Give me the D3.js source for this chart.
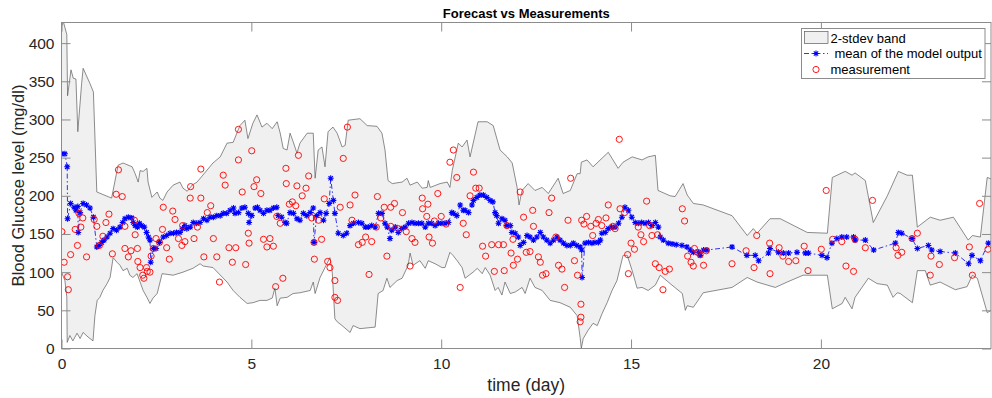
<!DOCTYPE html>
<html>
<head>
<meta charset="utf-8">
<script src="https://cdn.jsdelivr.net/npm/d3@7"></script>
<style>
  body { margin: 0; background: #fff; }
  svg { display: block; font-family: "Liberation Sans", Arial, Helvetica, sans-serif; }
</style>
</head>
<body>
<div id="chart"></div>
<script>
// all series are [day, mg/dl]
const bandUpper = [
  [0, 422], [0.05, 428], [0.14, 411], [0.16, 331], [0.25, 365], [0.31, 354], [0.38, 353], [0.43, 284],
  [0.53, 347], [0.57, 367], [0.75, 347], [0.84, 336], [0.93, 205], [1.32, 197], [1.49, 240], [1.62, 243],
  [1.86, 238], [1.94, 229], [2.02, 218], [2.07, 233], [2.15, 232], [2.25, 236], [2.28, 218], [2.38, 198],
  [2.52, 205], [2.59, 197], [2.67, 194], [2.78, 205], [2.94, 214], [3.12, 218], [3.20, 210], [3.31, 206],
  [3.44, 214], [3.57, 218], [3.99, 243], [4.18, 251], [4.36, 269], [4.52, 270], [4.70, 292], [4.83, 299],
  [4.91, 275], [5.04, 295], [5.15, 306], [5.28, 290], [5.41, 295], [5.55, 288], [5.68, 297], [5.76, 282],
  [5.84, 262], [5.94, 260], [6.02, 282], [6.10, 271], [6.20, 256], [6.28, 269], [6.47, 282], [6.63, 282],
  [6.68, 223], [6.76, 260], [6.86, 264], [6.94, 238], [7.02, 284], [7.15, 290], [7.26, 282], [7.39, 264],
  [7.47, 266], [7.55, 299], [7.86, 301], [8.05, 292], [8.31, 291], [8.44, 282], [8.52, 260], [8.60, 220],
  [8.71, 216], [8.97, 218], [9.10, 223], [9.18, 214], [9.37, 218], [9.50, 210], [9.63, 211], [9.66, 220],
  [9.71, 211], [9.97, 216], [10.16, 218], [10.23, 211], [10.29, 233], [10.45, 269], [10.55, 264], [10.68, 273],
  [10.76, 251], [10.97, 297], [11.21, 297], [11.37, 292], [11.55, 260], [11.74, 251], [11.87, 243], [12.00, 211],
  [12.05, 188], [12.13, 207], [12.29, 216], [12.47, 207], [12.66, 211], [12.82, 203], [13.08, 223], [13.21, 203],
  [13.40, 207], [13.58, 229], [13.66, 229], [13.69, 244], [13.84, 247], [14.00, 238], [14.40, 257], [14.50, 249],
  [14.66, 236], [14.79, 244], [15.03, 251], [15.29, 247], [15.45, 251], [15.64, 253], [15.71, 207], [16.03, 200],
  [16.16, 199], [16.37, 216], [16.48, 201], [16.64, 190], [16.90, 188], [17.66, 174], [18.06, 148], [18.22, 157],
  [18.32, 151], [18.66, 170], [18.93, 170], [19.64, 152], [20.17, 151], [20.30, 224], [20.64, 232], [20.82, 227],
  [20.90, 230], [21.17, 220], [21.38, 165], [21.75, 200], [22.04, 232], [22.27, 227], [22.41, 227], [22.54, 159],
  [22.88, 172], [23.14, 168], [23.49, 172], [23.88, 142], [23.99, 148], [24.20, 146], [24.38, 224], [24.49, 222]
];

const bandLower = [
  [0, 100], [0.09, 89], [0.14, 67], [0.15, 8], [0.22, 17], [0.30, 10], [0.41, 20], [0.49, 13],
  [0.57, 21], [0.70, 15], [0.83, 10], [0.88, 43], [0.94, 63], [1.01, 67], [1.09, 76], [1.20, 85],
  [1.28, 93], [1.36, 119], [1.46, 113], [1.54, 109], [1.62, 102], [1.73, 105], [1.80, 96], [1.88, 93],
  [1.99, 98], [2.07, 87], [2.15, 76], [2.25, 67], [2.33, 59], [2.41, 66], [2.52, 72], [2.65, 98],
  [2.94, 96], [3.20, 100], [3.46, 105], [3.65, 111], [3.73, 108], [3.99, 106], [4.36, 87], [4.52, 76],
  [4.70, 67], [4.89, 59], [5.04, 60], [5.23, 63], [5.41, 63], [5.55, 66], [5.62, 79], [5.68, 56],
  [5.76, 66], [5.94, 67], [6.10, 72], [6.28, 73], [6.55, 76], [6.63, 87], [6.68, 72], [6.81, 93],
  [6.94, 106], [7.07, 119], [7.13, 100], [7.20, 39], [7.26, 35], [7.39, 30], [7.60, 21], [7.68, 30],
  [7.86, 26], [8.26, 28], [8.34, 72], [8.47, 76], [8.57, 92], [8.65, 80], [8.84, 89], [8.97, 92],
  [9.13, 109], [9.18, 125], [9.26, 109], [9.44, 115], [9.58, 105], [9.66, 115], [9.84, 111], [10.02, 106],
  [10.10, 106], [10.23, 126], [10.31, 122], [10.42, 115], [10.55, 106], [10.63, 92], [10.84, 100], [10.95, 105],
  [11.08, 98], [11.16, 106], [11.29, 96], [11.42, 76], [11.50, 80], [11.60, 70], [11.68, 87], [11.82, 72],
  [11.95, 74], [12.13, 80], [12.21, 72], [12.34, 92], [12.47, 80], [12.66, 76], [12.87, 63], [13.13, 60],
  [13.40, 54], [13.58, 43], [13.66, 14], [13.69, 0], [13.74, 13], [13.87, 24], [14.00, 33], [14.11, 30],
  [14.24, 46], [14.37, 60], [14.50, 76], [14.63, 89], [14.79, 122], [14.90, 122], [15.03, 102], [15.16, 79],
  [15.29, 80], [15.45, 76], [15.64, 83], [15.77, 96], [16.03, 85], [16.35, 72], [16.43, 50], [16.48, 56],
  [16.64, 54], [16.82, 67], [16.90, 73], [17.66, 80], [18.06, 93], [18.32, 87], [18.80, 80], [19.11, 87],
  [19.53, 96], [20.17, 96], [20.30, 52], [20.56, 59], [20.64, 67], [20.82, 52], [20.90, 67], [21.25, 92],
  [21.48, 85], [21.75, 83], [21.90, 67], [22.01, 73], [22.09, 72], [22.41, 60], [22.54, 102], [22.75, 102],
  [22.88, 83], [23.14, 87], [23.54, 77], [23.85, 81], [23.99, 96], [24.12, 92], [24.38, 47], [24.49, 50]
];

const modelMean = [
  [0.01, 255], [0.09, 255], [0.15, 238], [0.16, 170], [0.24, 190], [0.33, 185], [0.38, 181], [0.43, 186],
  [0.44, 152], [0.49, 178], [0.57, 190], [0.66, 188], [0.75, 184], [0.84, 172], [0.93, 133], [0.99, 135],
  [1.06, 139], [1.12, 142], [1.20, 146], [1.28, 151], [1.36, 157], [1.45, 155], [1.54, 159], [1.61, 165],
  [1.67, 170], [1.76, 172], [1.85, 171], [1.89, 165], [1.94, 161], [2.00, 159], [2.05, 164], [2.11, 161],
  [2.18, 159], [2.24, 152], [2.29, 146], [2.33, 142], [2.35, 113], [2.42, 131], [2.49, 131], [2.58, 139],
  [2.68, 146], [2.77, 148], [2.86, 151], [2.95, 151], [3.03, 152], [3.12, 152], [3.19, 157], [3.25, 161],
  [3.30, 157], [3.39, 159], [3.47, 165], [3.56, 164], [3.65, 165], [3.74, 170], [3.83, 168], [3.91, 172],
  [4.00, 172], [4.09, 174], [4.18, 174], [4.26, 177], [4.35, 177], [4.44, 181], [4.53, 184], [4.57, 177],
  [4.66, 178], [4.75, 184], [4.83, 185], [4.92, 177], [4.94, 165], [5.01, 174], [5.10, 184], [5.16, 185],
  [5.23, 181], [5.32, 177], [5.41, 181], [5.49, 181], [5.58, 184], [5.67, 185], [5.71, 174], [5.80, 172],
  [5.89, 165], [5.93, 164], [6.02, 178], [6.11, 177], [6.20, 170], [6.28, 168], [6.37, 177], [6.46, 174],
  [6.55, 178], [6.63, 184], [6.65, 139], [6.72, 174], [6.81, 178], [6.90, 168], [6.97, 177], [7.05, 190],
  [7.09, 223], [7.16, 194], [7.20, 177], [7.29, 151], [7.42, 148], [7.51, 151], [7.60, 161], [7.69, 164],
  [7.82, 165], [7.91, 164], [8.00, 159], [8.08, 159], [8.17, 161], [8.26, 159], [8.35, 177], [8.44, 177],
  [8.52, 164], [8.58, 159], [8.65, 144], [8.70, 155], [8.79, 159], [8.87, 152], [8.96, 157], [9.05, 159],
  [9.14, 164], [9.23, 165], [9.31, 164], [9.40, 164], [9.49, 164], [9.58, 159], [9.66, 164], [9.75, 164],
  [9.84, 161], [9.93, 164], [10.02, 164], [10.10, 164], [10.19, 165], [10.28, 178], [10.32, 177], [10.41, 174],
  [10.50, 188], [10.58, 181], [10.63, 181], [10.72, 178], [10.81, 188], [10.85, 194], [10.94, 198], [11.02, 201],
  [11.11, 201], [11.20, 198], [11.29, 194], [11.36, 192], [11.42, 178], [11.46, 174], [11.51, 164], [11.60, 170],
  [11.68, 168], [11.73, 161], [11.82, 161], [11.86, 152], [11.95, 151], [12.03, 146], [12.08, 135], [12.17, 139],
  [12.26, 148], [12.34, 146], [12.43, 142], [12.52, 146], [12.61, 152], [12.69, 146], [12.78, 142], [12.87, 138],
  [12.96, 142], [13.05, 146], [13.13, 142], [13.22, 138], [13.31, 135], [13.40, 135], [13.48, 138], [13.57, 135],
  [13.66, 133], [13.70, 129], [13.71, 93], [13.79, 138], [13.88, 139], [13.97, 138], [14.05, 139], [14.14, 139],
  [14.19, 142], [14.23, 151], [14.32, 152], [14.40, 157], [14.49, 159], [14.58, 159], [14.67, 164], [14.76, 172],
  [14.84, 185], [14.93, 181], [15.02, 172], [15.11, 165], [15.19, 164], [15.28, 165], [15.37, 164], [15.46, 165],
  [15.55, 161], [15.64, 165], [15.72, 159], [15.77, 146], [15.85, 142], [15.98, 138], [16.08, 137], [16.19, 136],
  [16.34, 135], [16.47, 133], [16.56, 129], [16.64, 126], [16.78, 126], [16.82, 122], [16.91, 129], [17.00, 129],
  [17.66, 133], [18.05, 122], [18.27, 122], [18.36, 115], [18.62, 125], [18.66, 131], [18.88, 126], [19.01, 125],
  [19.15, 125], [19.37, 126], [19.59, 125], [19.67, 125], [20.03, 122], [20.16, 119], [20.29, 138], [20.42, 144],
  [20.55, 146], [20.68, 146], [20.86, 146], [20.90, 142], [21.17, 142], [21.39, 129], [21.96, 138], [22.04, 152],
  [22.13, 151], [22.40, 144], [22.54, 131], [22.83, 135], [22.92, 129], [23.14, 127], [23.54, 125], [23.89, 111],
  [23.98, 122], [24.20, 115], [24.41, 138]
];

const measurements = [
  [0.01, 153], [0.07, 113], [0.16, 94], [0.18, 77], [0.24, 123], [0.36, 156], [0.42, 135], [0.46, 177],
  [0.51, 159], [0.56, 171], [0.66, 120], [0.86, 169], [0.93, 160], [1.00, 135], [1.09, 147], [1.17, 165],
  [1.25, 176], [1.34, 124], [1.44, 202], [1.50, 234], [1.60, 199], [1.67, 160], [1.67, 131], [1.76, 120],
  [1.83, 128], [1.92, 168], [1.94, 149], [2.00, 131], [2.01, 114], [2.07, 106], [2.14, 96], [2.17, 92],
  [2.24, 106], [2.26, 101], [2.33, 100], [2.36, 121], [2.42, 131], [2.49, 144], [2.58, 139], [2.66, 156],
  [2.68, 185], [2.77, 132], [2.84, 117], [2.93, 180], [2.99, 169], [3.08, 144], [3.17, 135], [3.19, 161],
  [3.25, 140], [3.39, 197], [3.40, 212], [3.49, 144], [3.58, 159], [3.67, 197], [3.67, 235], [3.75, 120],
  [3.84, 178], [3.93, 187], [4.00, 144], [4.09, 120], [4.16, 87], [4.26, 227], [4.31, 214], [4.41, 132],
  [4.50, 113], [4.59, 132], [4.66, 287], [4.66, 247], [4.76, 205], [4.85, 110], [4.92, 151], [4.94, 138],
  [5.01, 259], [5.07, 212], [5.14, 221], [5.25, 203], [5.32, 143], [5.41, 133], [5.49, 144], [5.58, 134],
  [5.64, 81], [5.67, 173], [5.76, 164], [5.83, 92], [5.91, 236], [5.92, 216], [6.00, 189], [6.08, 192],
  [6.17, 187], [6.20, 213], [6.24, 253], [6.34, 200], [6.44, 210], [6.51, 226], [6.59, 171], [6.65, 139],
  [6.66, 117], [6.77, 168], [6.85, 143], [6.92, 196], [7.01, 114], [7.07, 106], [7.20, 89], [7.20, 67],
  [7.27, 63], [7.34, 185], [7.42, 249], [7.53, 290], [7.60, 188], [7.65, 168], [7.73, 201], [7.82, 136],
  [7.92, 139], [8.01, 146], [8.10, 97], [8.17, 140], [8.29, 159], [8.32, 199], [8.41, 171], [8.50, 185],
  [8.57, 121], [8.67, 185], [8.67, 160], [8.77, 190], [8.87, 157], [8.98, 178], [9.08, 153], [9.18, 108],
  [9.23, 144], [9.31, 139], [9.50, 197], [9.51, 183], [9.62, 173], [9.65, 189], [9.68, 146], [9.77, 138],
  [9.82, 167], [9.91, 203], [10.00, 173], [10.13, 163], [10.23, 244], [10.32, 260], [10.41, 224], [10.50, 80],
  [10.58, 164], [10.66, 149], [10.76, 200], [10.85, 231], [10.91, 210], [11.00, 210], [11.09, 134], [11.17, 121],
  [11.33, 136], [11.40, 101], [11.51, 136], [11.64, 136], [11.66, 102], [11.73, 161], [11.84, 125], [11.89, 143],
  [11.90, 109], [12.01, 117], [12.08, 205], [12.17, 172], [12.24, 126], [12.34, 127], [12.41, 181], [12.43, 160],
  [12.56, 120], [12.61, 113], [12.67, 96], [12.76, 98], [12.84, 178], [12.91, 197], [13.02, 146], [13.09, 109],
  [13.18, 104], [13.25, 80], [13.34, 168], [13.41, 223], [13.51, 115], [13.59, 96], [13.68, 58], [13.68, 41],
  [13.66, 35], [13.70, 168], [13.76, 163], [13.83, 173], [13.94, 160], [13.99, 148], [14.08, 164], [14.14, 169],
  [14.23, 161], [14.34, 171], [14.40, 188], [14.52, 160], [14.58, 157], [14.69, 274], [14.71, 183], [14.83, 178],
  [14.91, 123], [14.93, 98], [15.00, 138], [15.09, 130], [15.19, 159], [15.26, 149], [15.33, 140], [15.41, 193],
  [15.49, 161], [15.55, 148], [15.64, 111], [15.70, 149], [15.74, 106], [15.84, 77], [15.90, 101], [16.01, 104],
  [16.35, 183], [16.41, 167], [16.49, 121], [16.58, 113], [16.64, 108], [16.67, 131], [16.75, 126], [16.82, 123],
  [16.91, 109], [16.98, 128], [17.66, 111], [18.03, 128], [18.24, 106], [18.31, 148], [18.65, 138], [18.66, 98],
  [18.90, 132], [19.00, 121], [19.15, 114], [19.34, 115], [19.56, 134], [19.66, 102], [20.01, 130], [20.14, 207],
  [20.31, 143], [20.55, 140], [20.66, 108], [20.86, 101], [20.90, 143], [21.17, 132], [21.36, 194], [21.98, 132],
  [22.03, 122], [22.13, 126], [22.40, 144], [22.54, 151], [22.88, 96], [22.90, 121], [23.12, 110], [23.52, 119],
  [23.91, 133], [23.99, 96], [24.18, 190], [24.40, 130]
];

const xTicks = [0, 5, 10, 15, 20];
const yTicks = [0, 50, 100, 150, 200, 250, 300, 350, 400];
const legendLabels = ['2-stdev band', 'mean of the model output', 'measurement'];

const W = 992, H = 398;
const margin = { top: 22.5, right: 1, bottom: 49.5, left: 61.5 };
const width = W - margin.left - margin.right;
const height = H - margin.top - margin.bottom;

const bandFill = '#f0f0f0', bandEdge = '#5c5c5c';
const meanColor = '#0000ff', measColor = '#ff0000';
const axisColor = '#8c8c8c', textColor = '#262626';

const svg = d3.select('#chart').append('svg')
  .attr('width', W)
  .attr('height', H);

const x = d3.scaleLinear().domain([0, 24.48]).range([0, width]);
const y = d3.scaleLinear().domain([0, 427]).range([height, 0]);

const g = svg.append('g').attr('transform', `translate(${margin.left},${margin.top})`);

g.append('clipPath').attr('id', 'plot-clip')
  .append('rect').attr('width', width).attr('height', height);

const plot = g.append('g').attr('clip-path', 'url(#plot-clip)');

// shaded 2-stdev band: upper edge forward, lower edge back
const bandPath = d3.line().x(d => x(d[0])).y(d => y(d[1]));
plot.append('path')
  .attr('d', bandPath(bandUpper.concat(bandLower.slice().reverse())) + 'Z')
  .attr('fill', bandFill)
  .attr('stroke', bandEdge)
  .attr('stroke-width', 0.7)
  .attr('stroke-linejoin', 'round');

// model mean, dash-dot with '*' markers
plot.append('path')
  .attr('d', bandPath(modelMean))
  .attr('fill', 'none')
  .attr('stroke', meanColor)
  .attr('stroke-width', 0.8)
  .attr('stroke-dasharray', '5,2.5,1.5,2.5');

const star = 'M-3,0H3M0,-3V3M-2.2,-2.2L2.2,2.2M-2.2,2.2L2.2,-2.2';
plot.append('g').selectAll('path')
  .data(modelMean)
  .enter().append('path')
    .attr('transform', d => `translate(${x(d[0])},${y(d[1])})`)
    .attr('d', star)
    .attr('stroke', meanColor)
    .attr('stroke-width', 1.1)
    .attr('fill', 'none');

plot.append('g').selectAll('circle')
  .data(measurements)
  .enter().append('circle')
    .attr('cx', d => x(d[0]))
    .attr('cy', d => y(d[1]))
    .attr('r', 3.1)
    .attr('fill', 'none')
    .attr('stroke', measColor)
    .attr('stroke-width', 0.9);

// axes: ticks point inward on all four sides (box on)
function styleAxis(sel) {
  sel.select('.domain').remove();
  sel.selectAll('line').attr('stroke', axisColor);
  sel.selectAll('text')
    .attr('fill', textColor)
    .style('font-size', '15.5px')
    .style('font-family', '"Liberation Sans", Arial, Helvetica, sans-serif');
}

g.append('g')
  .attr('transform', `translate(0,${height})`)
  .call(d3.axisBottom(x).tickValues(xTicks).tickFormat(d3.format('d')).tickSizeInner(-9).tickSizeOuter(0).tickPadding(9))
  .call(styleAxis);

g.append('g')
  .call(d3.axisLeft(y).tickValues(yTicks).tickFormat(d3.format('d')).tickSizeInner(-9).tickSizeOuter(0).tickPadding(7))
  .call(styleAxis);

g.append('g')
  .call(d3.axisTop(x).tickValues(xTicks).tickFormat('').tickSizeInner(-9).tickSizeOuter(0))
  .call(styleAxis);

g.append('g')
  .attr('transform', `translate(${width},0)`)
  .call(d3.axisRight(y).tickValues(yTicks).tickFormat('').tickSizeInner(-9).tickSizeOuter(0))
  .call(styleAxis);

g.append('rect')
  .attr('width', width)
  .attr('height', height)
  .attr('fill', 'none')
  .attr('stroke', axisColor)
  .attr('stroke-width', 1);

// labels
svg.append('text')
  .attr('x', margin.left + width / 2)
  .attr('y', 17.5)
  .attr('text-anchor', 'middle')
  .attr('fill', '#000')
  .style('font-size', '13px')
  .style('font-weight', 'bold')
  .text('Forecast vs Measurements');

svg.append('text')
  .attr('x', margin.left + width / 2)
  .attr('y', 391)
  .attr('text-anchor', 'middle')
  .attr('fill', textColor)
  .style('font-size', '17.5px')
  .text('time (day)');

svg.append('text')
  .attr('transform', `translate(24,${margin.top + height / 2}) rotate(-90)`)
  .attr('text-anchor', 'middle')
  .attr('fill', textColor)
  .style('font-size', '16.5px')
  .text('Blood Glucose level (mg/dl)');

// legend
const legend = svg.append('g');
legend.append('rect')
  .attr('x', 801.5).attr('y', 28.5)
  .attr('width', 183.5).attr('height', 50)
  .attr('fill', '#fff')
  .attr('stroke', axisColor)
  .attr('stroke-width', 1);

legend.append('rect')
  .attr('x', 804.5).attr('y', 31.5)
  .attr('width', 23.5).attr('height', 12)
  .attr('fill', bandFill)
  .attr('stroke', bandEdge)
  .attr('stroke-width', 0.7);

legend.append('line')
  .attr('x1', 804).attr('x2', 828)
  .attr('y1', 53.5).attr('y2', 53.5)
  .attr('stroke', meanColor)
  .attr('stroke-width', 0.8)
  .attr('stroke-dasharray', '5,2.5,1.5,2.5');
legend.append('path')
  .attr('transform', 'translate(816,53.5)')
  .attr('d', star)
  .attr('stroke', meanColor)
  .attr('stroke-width', 1.1);

legend.append('circle')
  .attr('cx', 816).attr('cy', 69.5).attr('r', 3.1)
  .attr('fill', 'none')
  .attr('stroke', measColor)
  .attr('stroke-width', 0.9);

legend.selectAll('text')
  .data(legendLabels)
  .enter().append('text')
    .attr('x', (d, i) => i === 1 ? 834.5 : 830.5)
    .attr('y', (d, i) => [43, 58, 73.5][i])
    .attr('fill', '#000')
    .style('font-size', '13px')
    .text(d => d);
</script>
</body>
</html>
